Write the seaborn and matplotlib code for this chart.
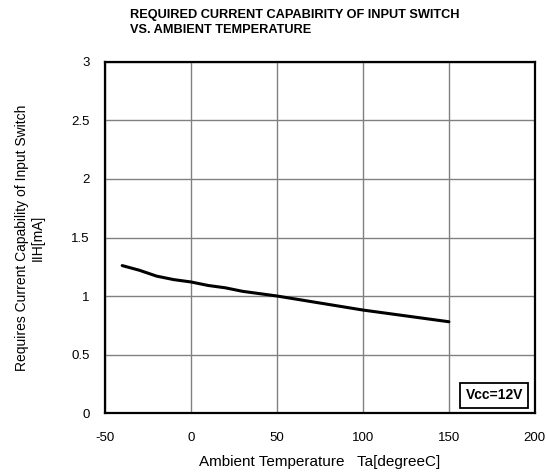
import numpy as np
import pandas as pd
import matplotlib
matplotlib.use('Agg')
import matplotlib.pyplot as plt
import seaborn as sns

# Data
temp = [-40, -30, -20, -10, 0, 10, 20, 30, 40, 50, 75, 100, 125, 150]
current = [1.26, 1.22, 1.17, 1.14, 1.12, 1.09, 1.07, 1.04, 1.02, 1.00, 0.94, 0.88, 0.83, 0.78]
x_ticks = [-50, 0, 50, 100, 150, 200]
y_ticks = [0, 0.5, 1, 1.5, 2, 2.5, 3]

df = pd.DataFrame({'Ta': temp, 'IIH': current})

sns.set_theme(style='white')
plt.rcParams['font.family'] = ['Liberation Sans', 'DejaVu Sans']
plt.rcParams['text.color'] = 'black'
plt.rcParams['axes.labelcolor'] = 'black'

fig = plt.figure(figsize=(5.48, 4.75), dpi=100)
ax = fig.add_axes([0.1916, 0.1305, 0.7844, 0.739])

sns.lineplot(data=df, x='Ta', y='IIH', ax=ax, color='black', linewidth=2.2)

ax.set_xlim(-50, 200)
ax.set_ylim(0, 3)
ax.set_xticks(x_ticks)
ax.set_yticks(y_ticks)
ax.set_xticklabels([str(t) for t in x_ticks])
ax.set_yticklabels(['0', '0.5', '1', '1.5', '2', '2.5', '3'])
ax.tick_params(axis='x', labelsize=9.5, length=0, pad=14, colors='black')
ax.tick_params(axis='y', labelsize=9.5, length=0, pad=11, colors='black')
ax.grid(True, color='#808080', linewidth=1)
for s in ax.spines.values():
    s.set_color('black')
    s.set_linewidth(1.6)

ax.set_xlabel('Ambient Temperature   Ta[degreeC]', fontsize=11, labelpad=7.5)
ax.set_ylabel('Requires Current Capability of Input Switch\nIIH[mA]', fontsize=10, labelpad=19)

fig.text(0.237, 0.982, 'REQUIRED CURRENT CAPABIRITY OF INPUT SWITCH\nVS. AMBIENT TEMPERATURE',
         fontsize=9.2, fontweight='bold', ha='left', va='top', linespacing=1.4, color='black')

ax.text(0.972, 0.031, 'Vcc=12V', transform=ax.transAxes, fontsize=10, fontweight='bold',
        ha='right', va='bottom',
        bbox=dict(boxstyle='square,pad=0.4', facecolor='white', edgecolor='black', linewidth=1.3))

plt.savefig('out.png', dpi=100)
plt.close()
